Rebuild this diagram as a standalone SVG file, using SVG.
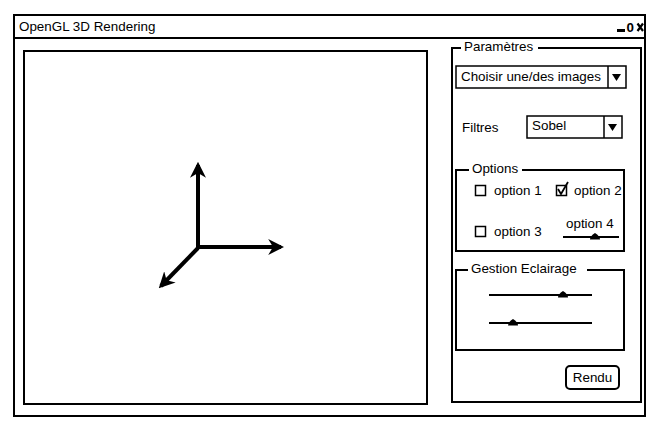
<svg xmlns="http://www.w3.org/2000/svg" width="667" height="433" viewBox="0 0 667 433">
<style>
text{font-family:"Liberation Sans","DejaVu Sans",Arial,sans-serif;font-size:13.4px;fill:#000}
.box{fill:#fff;stroke:#000;stroke-width:2}
.thin{fill:none;stroke:#000;stroke-width:1.5}
.lbl{fill:#fff;stroke:none}
.slider{stroke:#000;stroke-width:2}
.axis{stroke:#000;stroke-width:4;fill:none;marker-end:url(#ah)}
</style>
<defs>
<marker id="ah" viewBox="0 0 10 10" refX="8" refY="5" markerWidth="4" markerHeight="4" orient="auto" markerUnits="strokeWidth">
<path d="M0,0 L10,5 L0,10 L3,5 Z" fill="#000"/>
</marker>
<path id="thumb" d="M-5,2.5 Q-5,-1 0,-4 Q5,-1 5,2.5 Z"/>
</defs>
<rect width="667" height="433" fill="#fff"/>
<g id="window">
<rect x="14" y="15" width="631" height="401" class="box"/>
<line x1="14" y1="38" x2="645" y2="38" stroke="#000" stroke-width="2"/>
<text x="19" y="31">OpenGL 3D Rendering</text>
<rect x="617" y="29" width="8" height="3" fill="#000"/>
<text x="626.5" y="32" font-weight="bold" font-size="12">0</text>
<path d="M637.5,23.5 L643,31 M643,23.5 L637.5,31" stroke="#000" stroke-width="2.2" fill="none"/>
</g>
<g id="canvas">
<rect x="24" y="51" width="403" height="353" class="box"/>
</g>
<g id="axes">
<line x1="198" y1="248" x2="198" y2="165" class="axis"/>
<line x1="196" y1="247" x2="281" y2="247" class="axis"/>
<line x1="198" y1="248" x2="161" y2="286" class="axis"/>
</g>
<g id="parametres">
<rect x="452" y="48" width="189" height="354" class="box"/>
<rect x="461" y="40" width="77" height="14" class="lbl"/>
<text x="464" y="51">Paramètres</text>
</g>
<g id="images-dropdown">
<rect x="456" y="66" width="170" height="22" fill="#fff" stroke="#000" stroke-width="1.5"/>
<line x1="608" y1="66" x2="608" y2="88" stroke="#000" stroke-width="1.5"/>
<path d="M612,74 L621,74 L616.5,81 Z" fill="#000"/>
<text x="461" y="81">Choisir une/des images</text>
</g>
<g id="filtres">
<text x="462" y="132">Filtres</text>
<rect x="527" y="116" width="95" height="22" fill="#fff" stroke="#000" stroke-width="1.5"/>
<line x1="604" y1="116" x2="604" y2="138" stroke="#000" stroke-width="1.5"/>
<path d="M608,124 L617,124 L612.5,131 Z" fill="#000"/>
<text x="532" y="130">Sobel</text>
</g>
<g id="options">
<rect x="456" y="170" width="168" height="81" class="box"/>
<rect x="469" y="162" width="53" height="14" class="lbl"/>
<text x="472" y="173">Options</text>
<rect x="475.5" y="185.5" width="10" height="10" class="thin"/>
<text x="494" y="195">option 1</text>
<rect x="556.5" y="185.5" width="10" height="10" class="thin"/>
<path d="M558,189 L561,194 L568,182" fill="none" stroke="#000" stroke-width="1.8"/>
<text x="574" y="195">option 2</text>
<rect x="475.5" y="226.5" width="10" height="10" class="thin"/>
<text x="494" y="236">option 3</text>
<text x="566" y="228">option 4</text>
<line x1="563" y1="237" x2="619" y2="237" class="slider"/>
<use href="#thumb" x="595" y="237"/>
</g>
<g id="eclairage">
<rect x="456" y="270" width="168" height="80" class="box"/>
<rect x="468" y="262" width="119" height="14" class="lbl"/>
<text x="471" y="273">Gestion Eclairage</text>
<line x1="489" y1="295" x2="592" y2="295" class="slider"/>
<use href="#thumb" x="563" y="295"/>
<line x1="489" y1="323" x2="592" y2="323" class="slider"/>
<use href="#thumb" x="513" y="323"/>
</g>
<g id="rendu">
<rect x="566" y="366" width="53" height="23" rx="4" class="box"/>
<text x="592.5" y="382" text-anchor="middle">Rendu</text>
</g>
</svg>
